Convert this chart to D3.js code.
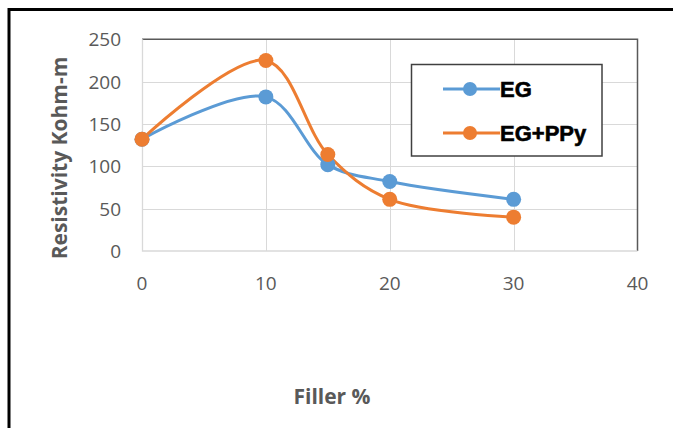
<!DOCTYPE html>
<html lang="en">
<head>
<meta charset="utf-8">
<title>Resistivity vs Filler</title>
<script src="https://cdn.jsdelivr.net/npm/d3@7"></script>
<style>
  body { margin: 0; background: #ffffff; }
  .tick-label { font-family: "Open Sans", sans-serif; font-size: 19px; fill: #595959; }
  .axis-title { font-family: "Open Sans", sans-serif; font-weight: 700; fill: #595959; }
  .legend-text { font-family: "Liberation Sans Narrow", "Liberation Sans", sans-serif; font-weight: 700; font-size: 22px; fill: #000000; stroke: #000000; stroke-width: 0.6px; }
</style>
</head>
<body>
<div id="chart"></div>
<script>
// data
var filler = [0, 10, 15, 20, 30];
var egValues = [132, 182, 102, 82, 61];
var egPpyValues = [132, 225, 114, 61, 40];
var seriesNames = ["EG", "EG+PPy"];
var seriesColors = ["#5B9BD5", "#ED7D31"];
var xTicks = [0, 10, 20, 30, 40];
var yTicks = [0, 50, 100, 150, 200, 250];

var W = 673, H = 428;
var plot = {left: 142, right: 637.5, top: 39.3, bottom: 251};

var svg = d3.select("#chart").append("svg")
  .attr("width", W)
  .attr("height", H);

svg.append("rect").attr("width", W).attr("height", H).attr("fill", "#ffffff");

// outer frame
svg.append("rect")
  .attr("x", 9).attr("y", 9.5)
  .attr("width", W + 20).attr("height", H + 20)
  .attr("fill", "none")
  .attr("stroke", "#000000")
  .attr("stroke-width", 3);

var x = d3.scaleLinear().domain([0, 40]).range([plot.left, plot.right]);
var y = d3.scaleLinear().domain([0, 250]).range([plot.bottom, plot.top]);

// grid lines
svg.append("g").selectAll("line.h")
  .data(yTicks.slice(1, -1))
  .enter().append("line")
  .attr("x1", plot.left).attr("x2", plot.right)
  .attr("y1", function(d) { return Math.round(y(d)) + 0.5; })
  .attr("y2", function(d) { return Math.round(y(d)) + 0.5; })
  .attr("stroke", "#D9D9D9").attr("stroke-width", 1);

svg.append("g").selectAll("line.v")
  .data(xTicks.slice(1, -1))
  .enter().append("line")
  .attr("y1", plot.top).attr("y2", plot.bottom)
  .attr("x1", function(d) { return Math.round(x(d)) + 0.5; })
  .attr("x2", function(d) { return Math.round(x(d)) + 0.5; })
  .attr("stroke", "#D9D9D9").attr("stroke-width", 1);

// plot border: dark top/right, light axes left/bottom
svg.append("path")
  .attr("d", "M" + plot.left + "," + plot.top + "H" + plot.right + "V" + plot.bottom)
  .attr("fill", "none").attr("stroke", "#595959").attr("stroke-width", 1.5);
svg.append("path")
  .attr("d", "M" + (plot.left + 0.5) + "," + plot.top + "V" + (plot.bottom) + "H" + plot.right)
  .attr("fill", "none").attr("stroke", "#D9D9D9").attr("stroke-width", 1.3);

// tick labels
svg.append("g").selectAll("text")
  .data(yTicks)
  .enter().append("text")
  .attr("class", "tick-label")
  .attr("x", 121)
  .attr("y", function(d) { return y(d) + 7; })
  .attr("text-anchor", "end")
  .text(function(d) { return d; });

svg.append("g").selectAll("text")
  .data(xTicks)
  .enter().append("text")
  .attr("class", "tick-label")
  .attr("x", function(d) { return x(d); })
  .attr("y", 290)
  .attr("text-anchor", "middle")
  .text(function(d) { return d; });

// axis titles
svg.append("text")
  .attr("class", "axis-title")
  .attr("transform", "translate(67,158) rotate(-90)")
  .attr("text-anchor", "middle")
  .style("font-size", "21px")
  .text("Resistivity Kohm-m");

svg.append("text")
  .attr("class", "axis-title")
  .attr("x", 332).attr("y", 404)
  .attr("text-anchor", "middle")
  .style("font-size", "21px")
  .text("Filler %");

// series
var allSeries = [egValues, egPpyValues];
var line = d3.line()
  .x(function(d, i) { return x(filler[i]); })
  .y(function(d) { return y(d); })
  .curve(d3.curveCatmullRom.alpha(0.5));

allSeries.forEach(function(vals, s) {
  svg.append("path")
    .datum(vals)
    .attr("d", line)
    .attr("fill", "none")
    .attr("stroke", seriesColors[s])
    .attr("stroke-width", 3);
});
allSeries.forEach(function(vals, s) {
  svg.append("g").selectAll("circle")
    .data(vals)
    .enter().append("circle")
    .attr("cx", function(d, i) { return x(filler[i]); })
    .attr("cy", function(d) { return y(d); })
    .attr("r", 7.5)
    .attr("fill", seriesColors[s]);
});

// legend
var legend = svg.append("g");
legend.append("rect")
  .attr("x", 411.5).attr("y", 64.5)
  .attr("width", 190.5).attr("height", 91.5)
  .attr("fill", "#ffffff")
  .attr("stroke", "#404040")
  .attr("stroke-width", 1.5);

var legendY = [89, 133];
seriesNames.forEach(function(name, s) {
  legend.append("line")
    .attr("x1", 443).attr("x2", 500)
    .attr("y1", legendY[s]).attr("y2", legendY[s])
    .attr("stroke", seriesColors[s]).attr("stroke-width", 3);
  legend.append("circle")
    .attr("cx", 470).attr("cy", legendY[s]).attr("r", 7)
    .attr("fill", seriesColors[s]);
  legend.append("text")
    .attr("class", "legend-text")
    .attr("x", 500).attr("y", legendY[s] + 8)
    .text(name);
});
</script>
</body>
</html>
